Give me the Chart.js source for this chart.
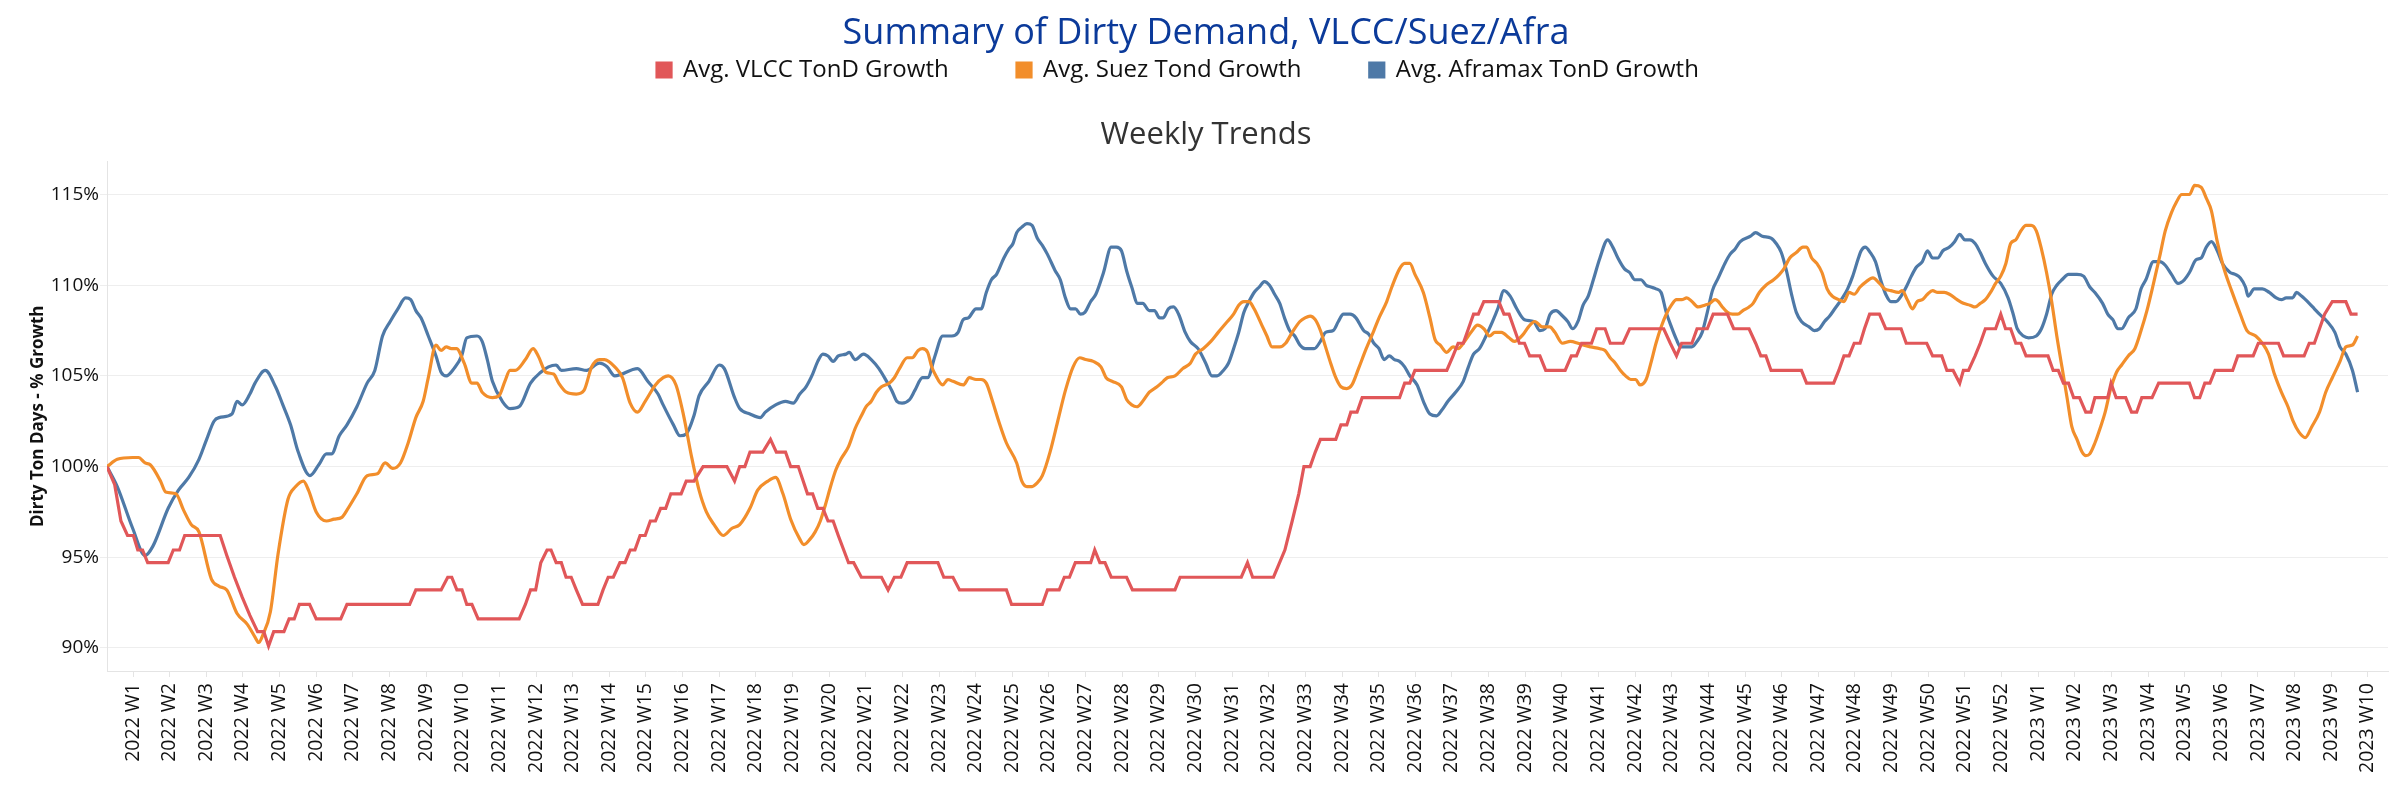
<!DOCTYPE html>
<html>
<head>
<meta charset="utf-8">
<title>Summary of Dirty Demand, VLCC/Suez/Afra</title>
<script src="https://cdn.jsdelivr.net/npm/chart.js@4.4.0/dist/chart.umd.min.js"></script>
<style>
  html, body { margin: 0; padding: 0; background: #fff; }
  #chart { display: block; }
</style>
</head>
<body>
<canvas id="chart" width="2400" height="800"></canvas>
<script>
// x positions are in weeks counted from 2022 W1 (0 = 2022 W1, 52 = 2023 W1)
const weekLabels = [];
for (let i = 1; i <= 52; i++) weekLabels.push("2022 W" + i);
for (let i = 1; i <= 10; i++) weekLabels.push("2023 W" + i);

const yTicks = [90, 95, 100, 105, 110, 115];

const seriesNames = ["Avg. VLCC TonD Growth", "Avg. Suez Tond Growth", "Avg. Aframax TonD Growth"];
const seriesColors = ["#e15759", "#f28e2b", "#4e79a7"];

const vlccWeeks = [-0.71, -0.5, -0.33, -0.15, 0.01, 0.13, 0.26, 0.4, 0.96, 1.1, 1.27, 1.41, 2.38, 2.56, 2.77, 2.98, 3.19, 3.4, 3.57, 3.7,
    3.84, 4.12, 4.26, 4.4, 4.54, 4.82, 5.0, 5.67, 5.84, 7.55, 7.72, 8.41, 8.59, 8.7, 8.84, 8.98, 9.11, 9.25, 9.42, 10.54,
    10.71, 10.85, 10.99, 11.13, 11.3, 11.41, 11.55, 11.69, 11.82, 11.96, 12.1, 12.27, 12.69, 12.83, 12.97, 13.11, 13.29, 13.43, 13.57, 13.7,
    13.84, 13.98, 14.12, 14.26, 14.4, 14.54, 14.68, 14.96, 15.1, 15.31, 15.56, 16.21, 16.42, 16.56, 16.7, 16.84, 17.19, 17.4, 17.56, 17.81,
    17.95, 18.16, 18.41, 18.55, 18.69, 18.83, 18.97, 19.11, 19.25, 19.53, 19.67, 19.88, 20.43, 20.61, 20.78, 20.96, 21.13, 21.97, 22.13, 22.38,
    22.56, 23.84, 23.98, 24.82, 24.96, 25.28, 25.42, 25.56, 25.72, 26.14, 26.25, 26.39, 26.53, 26.7, 27.12, 27.28, 28.44, 28.58, 30.25, 30.42,
    30.56, 31.13, 31.44, 31.64, 31.82, 31.96, 32.13, 32.27, 32.41, 32.83, 32.97, 33.13, 33.24, 33.41, 33.55, 34.57, 34.71, 34.85, 34.99, 35.86,
    36.03, 36.17, 36.31, 36.45, 36.59, 36.72, 36.87, 37.28, 37.42, 37.56, 37.7, 37.84, 37.98, 38.12, 38.4, 38.56, 39.09, 39.26, 39.4, 39.54,
    39.81, 39.95, 40.18, 40.32, 40.67, 40.85, 41.78, 41.96, 42.13, 42.27, 42.55, 42.69, 42.97, 43.13, 43.52, 43.69, 44.11, 44.29, 44.43, 44.57,
    44.71, 45.54, 45.68, 46.42, 46.56, 46.7, 46.84, 46.98, 47.14, 47.26, 47.4, 47.67, 47.84, 48.26, 48.4, 48.96, 49.12, 49.37, 49.51, 49.68,
    49.86, 49.96, 50.1, 50.28, 50.42, 50.56, 50.84, 50.98, 51.11, 51.25, 51.39, 51.53, 51.67, 52.27, 52.41, 52.55, 52.69, 52.83, 52.97, 53.13,
    53.3, 53.44, 53.55, 53.9, 53.99, 54.13, 54.39, 54.55, 54.69, 54.83, 55.11, 55.29, 56.13, 56.27, 56.41, 56.55, 56.69, 56.83, 57.31, 57.45,
    57.87, 58.01, 58.56, 58.7, 59.26, 59.4, 59.54, 59.68, 59.82, 60.03, 60.4, 60.54, 60.72];
const vlccValues = [100.0, 99.0, 97.0, 96.2, 96.2, 95.4, 95.4, 94.7, 94.7, 95.4, 95.4, 96.2, 96.2, 95.1, 93.9, 92.8, 91.8, 90.9, 90.9, 90.1,
    90.9, 90.9, 91.6, 91.6, 92.4, 92.4, 91.6, 91.6, 92.4, 92.4, 93.2, 93.2, 93.9, 93.9, 93.2, 93.2, 92.4, 92.4, 91.6, 91.6,
    92.4, 93.2, 93.2, 94.7, 95.4, 95.4, 94.7, 94.7, 93.9, 93.9, 93.2, 92.4, 92.4, 93.2, 93.9, 93.9, 94.7, 94.7, 95.4, 95.4,
    96.2, 96.2, 97.0, 97.0, 97.7, 97.7, 98.5, 98.5, 99.2, 99.2, 100.0, 100.0, 99.2, 100.0, 100.0, 100.8, 100.8, 101.5, 100.8, 100.8,
    100.0, 100.0, 98.5, 98.5, 97.7, 97.7, 97.0, 97.0, 96.2, 94.7, 94.7, 93.9, 93.9, 93.2, 93.9, 93.9, 94.7, 94.7, 93.9, 93.9,
    93.2, 93.2, 92.4, 92.4, 93.2, 93.2, 93.9, 93.9, 94.7, 94.7, 95.4, 94.7, 94.7, 93.9, 93.9, 93.2, 93.2, 93.9, 93.9, 94.7,
    93.9, 93.9, 95.4, 97.0, 98.5, 100.0, 100.0, 100.8, 101.5, 101.5, 102.3, 102.3, 103.0, 103.0, 103.8, 103.8, 104.6, 104.6, 105.3, 105.3,
    106.1, 106.8, 106.8, 107.6, 108.4, 108.4, 109.1, 109.1, 108.4, 108.4, 107.6, 106.8, 106.8, 106.1, 106.1, 105.3, 105.3, 106.1, 106.1, 106.8,
    106.8, 107.6, 107.6, 106.8, 106.8, 107.6, 107.6, 106.8, 106.1, 106.8, 106.8, 107.6, 107.6, 108.4, 108.4, 107.6, 107.6, 106.8, 106.1, 106.1,
    105.3, 105.3, 104.6, 104.6, 105.3, 106.1, 106.1, 106.8, 106.8, 107.6, 108.4, 108.4, 107.6, 107.6, 106.8, 106.8, 106.1, 106.1, 105.3, 105.3,
    104.6, 105.3, 105.3, 106.1, 106.8, 107.6, 107.6, 108.4, 107.6, 107.6, 106.8, 106.8, 106.1, 106.1, 105.3, 105.3, 104.6, 104.6, 103.8, 103.8,
    103.0, 103.0, 103.8, 103.8, 104.6, 103.8, 103.8, 103.0, 103.0, 103.8, 103.8, 104.6, 104.6, 103.8, 103.8, 104.6, 104.6, 105.3, 105.3, 106.1,
    106.1, 106.8, 106.8, 106.1, 106.1, 106.8, 106.8, 107.6, 108.4, 109.1, 109.1, 108.4, 108.4];

const suezWeeks = [-0.71, -0.43, -0.01, 0.15, 0.33, 0.47, 0.75, 0.89, 1.17, 1.38, 1.59, 1.8, 2.14, 2.35, 2.56, 2.84, 3.12, 3.33, 3.43, 3.54,
    3.75, 3.96, 4.23, 4.44, 4.65, 4.79, 5.0, 5.28, 5.49, 5.7, 5.84, 6.11, 6.39, 6.67, 6.88, 7.09, 7.3, 7.51, 7.72, 7.92,
    8.06, 8.27, 8.41, 8.55, 8.69, 8.83, 9.04, 9.25, 9.39, 9.53, 9.81, 9.99, 10.15, 10.29, 10.43, 10.71, 10.92, 11.06, 11.27, 11.48,
    11.62, 11.83, 12.1, 12.31, 12.52, 12.73, 12.87, 13.15, 13.36, 13.57, 13.77, 13.98, 14.26, 14.47, 14.61, 14.82, 15.03, 15.24, 15.45, 15.65,
    15.86, 16.11, 16.35, 16.56, 16.84, 17.05, 17.33, 17.54, 17.74, 17.95, 18.2, 18.31, 18.48, 18.62, 18.76, 18.9, 19.04, 19.18, 19.32, 19.53,
    19.71, 19.88, 20.01, 20.15, 20.29, 20.43, 20.64, 20.78, 20.92, 21.13, 21.27, 21.43, 21.55, 21.69, 21.8, 21.89, 22.1, 22.24, 22.38, 22.66,
    22.83, 23.01, 23.15, 23.29, 23.43, 23.63, 23.84, 24.12, 24.26, 24.4, 24.54, 24.68, 24.82, 25.03, 25.24, 25.45, 25.66, 25.84, 26.0, 26.21,
    26.42, 26.56, 26.73, 26.98, 27.12, 27.26, 27.4, 27.56, 27.74, 27.95, 28.12, 28.23, 28.44, 28.65, 28.86, 29.0, 29.21, 29.42, 29.62, 29.83,
    30.04, 30.18, 30.32, 30.46, 30.6, 30.81, 30.95, 31.09, 31.3, 31.46, 31.64, 31.85, 31.99, 32.13, 32.27, 32.41, 32.55, 32.69, 32.83, 32.97,
    33.13, 33.27, 33.45, 33.66, 33.87, 34.01, 34.22, 34.36, 34.57, 34.71, 34.85, 34.99, 35.22, 35.4, 35.54, 35.68, 35.86, 36.03, 36.17, 36.31,
    36.52, 36.7, 36.87, 37.03, 37.17, 37.35, 37.56, 37.7, 37.95, 38.09, 38.26, 38.47, 38.67, 38.81, 39.02, 39.23, 39.44, 39.58, 39.79, 40.04,
    40.18, 40.32, 40.46, 40.6, 40.74, 40.88, 41.02, 41.13, 41.3, 41.43, 41.57, 41.71, 41.85, 41.99, 42.13, 42.27, 42.41, 42.55, 42.72, 42.9,
    43.04, 43.18, 43.27, 43.38, 43.52, 43.66, 43.8, 43.94, 44.11, 44.22, 44.39, 44.57, 44.78, 44.94, 45.06, 45.22, 45.4, 45.58, 45.68, 45.82,
    45.96, 46.1, 46.24, 46.38, 46.56, 46.7, 46.84, 46.98, 47.14, 47.31, 47.49, 47.67, 47.81, 47.98, 48.19, 48.29, 48.43, 48.57, 48.7, 48.84,
    48.98, 49.12, 49.26, 49.44, 49.58, 49.79, 49.96, 50.14, 50.28, 50.42, 50.56, 50.7, 50.84, 50.98, 51.12, 51.25, 51.39, 51.53, 51.67, 51.81,
    51.95, 52.09, 52.23, 52.37, 52.51, 52.65, 52.79, 52.92, 53.06, 53.2, 53.3, 53.41, 53.55, 53.69, 53.83, 53.97, 54.14, 54.28, 54.46, 54.64,
    54.81, 54.97, 55.15, 55.32, 55.47, 55.64, 55.78, 55.92, 56.13, 56.27, 56.45, 56.59, 56.73, 56.89, 57.06, 57.28, 57.52, 57.7, 57.94, 58.12,
    58.29, 58.45, 58.64, 58.82, 58.96, 59.12, 59.29, 59.47, 59.68, 59.85, 60.03, 60.24, 60.4, 60.58, 60.72];
const suezValues = [100.0, 100.4, 100.5, 100.5, 100.2, 100.1, 99.2, 98.6, 98.5, 97.6, 96.8, 96.4, 93.8, 93.4, 93.2, 91.9, 91.3, 90.6, 90.3, 90.7,
    92.0, 95.2, 98.2, 98.9, 99.2, 98.7, 97.5, 97.0, 97.1, 97.2, 97.6, 98.5, 99.5, 99.6, 100.2, 99.9, 100.2, 101.3, 102.7, 103.6,
    104.9, 106.7, 106.4, 106.6, 106.5, 106.5, 105.7, 104.6, 104.6, 104.1, 103.8, 103.9, 104.7, 105.3, 105.3, 105.9, 106.5, 106.1, 105.2, 105.1,
    104.6, 104.1, 104.0, 104.2, 105.5, 105.9, 105.9, 105.5, 104.9, 103.5, 103.0, 103.6, 104.5, 104.9, 105.0, 104.5, 102.8, 100.6, 98.7, 97.5,
    96.8, 96.2, 96.6, 96.8, 97.7, 98.7, 99.2, 99.4, 98.5, 97.1, 96.0, 95.7, 96.0, 96.4, 97.0, 97.9, 98.9, 99.8, 100.4, 101.1,
    102.1, 102.8, 103.3, 103.6, 104.1, 104.4, 104.6, 104.9, 105.4, 106.0, 106.0, 106.4, 106.5, 106.3, 105.5, 105.1, 104.5, 104.8, 104.7, 104.5,
    104.9, 104.8, 104.8, 104.6, 103.8, 102.5, 101.3, 100.2, 99.2, 98.9, 98.9, 99.1, 99.5, 100.8, 102.5, 104.2, 105.5, 106.0, 105.9, 105.8,
    105.5, 104.9, 104.7, 104.4, 103.7, 103.4, 103.3, 103.6, 104.1, 104.4, 104.7, 104.9, 105.0, 105.4, 105.7, 106.2, 106.5, 106.9, 107.4, 107.9,
    108.4, 108.9, 109.1, 109.1, 108.7, 107.8, 107.2, 106.6, 106.6, 106.8, 107.4, 108.0, 108.2, 108.3, 108.1, 107.5, 106.6, 105.7, 104.9, 104.4,
    104.3, 104.5, 105.4, 106.5, 107.5, 108.2, 109.1, 109.9, 110.9, 111.2, 111.2, 110.6, 109.6, 108.2, 107.0, 106.7, 106.3, 106.6, 106.5, 106.8,
    107.4, 107.8, 107.6, 107.2, 107.4, 107.4, 107.1, 106.9, 107.3, 107.7, 108.0, 107.7, 107.7, 107.4, 106.8, 106.9, 106.8, 106.7, 106.6, 106.5,
    106.4, 106.0, 105.7, 105.3, 105.0, 104.8, 104.8, 104.5, 104.8, 105.7, 106.8, 107.7, 108.4, 108.9, 109.2, 109.2, 109.3, 109.1, 108.8, 108.9,
    109.0, 109.2, 109.1, 108.8, 108.5, 108.4, 108.4, 108.6, 108.8, 109.0, 109.6, 110.0, 110.3, 110.6, 110.9, 111.5, 111.8, 112.1, 112.1, 111.5,
    111.2, 110.7, 109.8, 109.4, 109.2, 109.1, 109.6, 109.5, 109.9, 110.2, 110.4, 110.1, 109.8, 109.7, 109.6, 109.7, 109.2, 108.7, 109.1, 109.2,
    109.5, 109.7, 109.6, 109.6, 109.5, 109.2, 109.0, 108.9, 108.8, 109.0, 109.2, 109.6, 110.1, 110.5, 111.2, 112.3, 112.5, 113.0, 113.3, 113.3,
    113.0, 112.0, 110.7, 109.1, 107.2, 105.5, 103.8, 102.2, 101.5, 100.8, 100.6, 100.7, 101.3, 102.1, 103.0, 104.2, 105.2, 105.6, 106.1, 106.5,
    107.5, 108.6, 110.1, 111.6, 113.0, 114.0, 114.6, 115.0, 115.0, 115.5, 115.4, 114.8, 114.1, 112.4, 111.0, 109.7, 108.4, 107.5, 107.2, 106.8,
    106.2, 105.1, 104.1, 103.3, 102.5, 101.9, 101.6, 102.2, 103.0, 104.1, 104.9, 105.8, 106.6, 106.7, 107.2];

const aframaxWeeks = [-0.71, -0.43, -0.01, 0.33, 0.54, 0.96, 1.24, 1.52, 1.8, 2.01, 2.21, 2.35, 2.7, 2.84, 2.98, 3.19, 3.33, 3.61, 3.89, 4.09,
    4.3, 4.51, 4.83, 5.07, 5.28, 5.42, 5.63, 5.84, 6.11, 6.39, 6.6, 6.81, 7.02, 7.23, 7.44, 7.58, 7.72, 7.86, 8.06, 8.27,
    8.41, 8.55, 8.76, 8.97, 9.11, 9.39, 9.53, 9.67, 9.81, 10.08, 10.29, 10.54, 10.85, 11.13, 11.34, 11.55, 11.69, 12.1, 12.38, 12.73,
    12.94, 13.15, 13.77, 14.05, 14.33, 14.47, 14.75, 14.93, 15.1, 15.31, 15.45, 15.72, 16.0, 16.14, 16.42, 16.56, 16.84, 17.12, 17.26, 17.54,
    17.81, 18.02, 18.2, 18.37, 18.55, 18.69, 18.83, 18.97, 19.11, 19.25, 19.46, 19.55, 19.71, 19.94, 20.15, 20.36, 20.57, 20.71, 20.85, 20.99,
    21.2, 21.34, 21.55, 21.69, 21.89, 22.1, 22.35, 22.52, 22.66, 22.8, 23.01, 23.15, 23.29, 23.43, 23.57, 23.77, 23.91, 24.02, 24.12, 24.26,
    24.4, 24.54, 24.68, 24.82, 24.96, 25.17, 25.31, 25.45, 25.59, 25.73, 25.86, 25.98, 26.14, 26.28, 26.49, 26.7, 26.84, 26.98, 27.12, 27.26,
    27.42, 27.56, 27.74, 27.88, 28.02, 28.12, 28.26, 28.4, 28.54, 28.72, 28.86, 29.07, 29.28, 29.45, 29.59, 29.76, 29.9, 30.04, 30.18, 30.32,
    30.46, 30.6, 30.74, 30.88, 31.02, 31.16, 31.3, 31.43, 31.57, 31.71, 31.85, 31.99, 32.24, 32.41, 32.55, 32.76, 32.9, 33.04, 33.22, 33.38,
    33.59, 33.73, 33.87, 34.01, 34.15, 34.29, 34.43, 34.57, 34.71, 34.85, 35.05, 35.22, 35.4, 35.58, 35.72, 35.89, 36.1, 36.31, 36.45, 36.59,
    36.75, 36.93, 37.11, 37.25, 37.42, 37.59, 37.77, 37.98, 38.23, 38.4, 38.54, 38.68, 38.84, 39.02, 39.16, 39.3, 39.44, 39.58, 39.72, 39.86,
    40.04, 40.25, 40.39, 40.53, 40.71, 40.85, 40.99, 41.16, 41.3, 41.43, 41.57, 41.71, 41.85, 41.99, 42.13, 42.24, 42.55, 42.69, 42.83, 42.97,
    43.11, 43.27, 43.45, 43.59, 43.73, 43.87, 44.15, 44.29, 44.47, 44.71, 44.85, 44.99, 45.13, 45.27, 45.4, 45.54, 45.75, 45.89, 46.03, 46.17,
    46.31, 46.45, 46.66, 46.8, 46.94, 47.08, 47.17, 47.28, 47.42, 47.56, 47.7, 47.84, 47.98, 48.12, 48.26, 48.4, 48.54, 48.68, 48.84, 48.98,
    49.12, 49.26, 49.4, 49.58, 49.72, 49.86, 50.0, 50.14, 50.28, 50.42, 50.56, 50.77, 50.98, 51.18, 51.32, 51.43, 51.6, 51.74, 51.95, 52.09,
    52.23, 52.37, 52.51, 52.65, 52.83, 53.06, 53.24, 53.41, 53.55, 53.76, 53.9, 54.04, 54.18, 54.28, 54.46, 54.67, 54.81, 54.94, 55.15, 55.32,
    55.47, 55.64, 55.82, 55.99, 56.13, 56.31, 56.45, 56.59, 56.73, 56.89, 57.03, 57.24, 57.38, 57.52, 57.66, 57.73, 57.9, 58.12, 58.31, 58.5,
    58.64, 58.77, 58.95, 59.05, 59.19, 59.4, 59.54, 59.68, 59.89, 60.1, 60.24, 60.4, 60.58, 60.72];
const aframaxValues = [100.0, 98.9, 96.6, 95.1, 95.6, 97.7, 98.7, 99.4, 100.4, 101.5, 102.5, 102.7, 102.9, 103.6, 103.4, 104.0, 104.6, 105.3, 104.4, 103.4,
    102.3, 100.8, 99.5, 100.1, 100.7, 100.7, 101.7, 102.3, 103.3, 104.6, 105.3, 107.2, 108.0, 108.7, 109.3, 109.2, 108.6, 108.2, 107.2, 106.1,
    105.2, 105.0, 105.4, 106.1, 107.1, 107.2, 106.9, 105.9, 104.7, 103.6, 103.2, 103.3, 104.6, 105.2, 105.5, 105.6, 105.3, 105.4, 105.3, 105.7,
    105.5, 105.0, 105.4, 104.7, 104.0, 103.4, 102.3, 101.7, 101.8, 102.8, 103.9, 104.7, 105.6, 105.4, 103.8, 103.2, 102.9, 102.7, 103.0, 103.4,
    103.6, 103.5, 104.0, 104.4, 105.1, 105.8, 106.2, 106.1, 105.8, 106.1, 106.2, 106.3, 105.9, 106.2, 105.9, 105.4, 104.7, 104.2, 103.6, 103.5,
    103.7, 104.2, 104.9, 104.9, 106.1, 107.2, 107.2, 107.4, 108.1, 108.2, 108.7, 108.7, 109.6, 110.3, 110.6, 111.5, 112.0, 112.3, 112.9, 113.2,
    113.4, 113.3, 112.6, 112.2, 111.7, 110.8, 110.3, 109.3, 108.7, 108.7, 108.4, 108.5, 109.1, 109.5, 110.7, 112.1, 112.1, 111.9, 110.8, 109.9,
    109.0, 109.0, 108.6, 108.6, 108.2, 108.2, 108.7, 108.8, 108.4, 107.4, 106.9, 106.5, 105.7, 105.0, 105.0, 105.3, 105.7, 106.5, 107.4, 108.5,
    109.1, 109.6, 109.9, 110.2, 110.0, 109.5, 109.0, 108.2, 107.5, 107.2, 106.7, 106.5, 106.5, 106.9, 107.4, 107.5, 108.0, 108.4, 108.4, 108.2,
    107.5, 107.3, 106.8, 106.5, 105.9, 106.1, 105.9, 105.8, 105.5, 105.0, 104.5, 103.6, 102.9, 102.8, 103.1, 103.6, 104.1, 104.7, 105.5, 106.2,
    106.5, 107.2, 108.0, 108.7, 109.7, 109.4, 108.7, 108.1, 108.0, 107.5, 107.6, 108.4, 108.6, 108.3, 108.0, 107.6, 108.0, 108.9, 109.4, 110.3,
    111.5, 112.5, 112.1, 111.5, 110.9, 110.7, 110.3, 110.3, 110.0, 109.9, 109.8, 109.6, 108.5, 107.7, 107.0, 106.6, 106.6, 106.9, 107.4, 108.5,
    109.7, 110.4, 111.2, 111.7, 112.0, 112.4, 112.7, 112.9, 112.7, 112.6, 112.3, 111.8, 110.8, 109.5, 108.5, 108.0, 107.7, 107.5, 107.6, 108.0,
    108.3, 108.7, 109.3, 109.8, 110.5, 111.4, 111.9, 112.1, 111.8, 111.3, 110.3, 109.5, 109.1, 109.1, 109.4, 109.9, 110.5, 111.0, 111.3, 111.9,
    111.5, 111.5, 111.9, 112.1, 112.4, 112.8, 112.5, 112.5, 112.3, 111.8, 111.2, 110.5, 110.1, 109.3, 108.4, 107.6, 107.2, 107.1, 107.2, 107.6,
    108.4, 109.5, 110.0, 110.3, 110.6, 110.6, 110.5, 109.9, 109.6, 109.0, 108.4, 108.1, 107.6, 107.6, 108.2, 108.7, 109.8, 110.3, 111.3, 111.3,
    111.1, 110.6, 110.1, 110.3, 110.7, 111.4, 111.5, 112.1, 112.4, 111.9, 111.2, 110.7, 110.6, 110.4, 109.9, 109.4, 109.8, 109.8, 109.6, 109.3,
    109.2, 109.3, 109.3, 109.6, 109.4, 109.0, 108.7, 108.4, 108.0, 107.4, 106.6, 106.2, 105.3, 104.1];

function toPoints(weeks, values) {
    return weeks.map((w, i) => ({ x: w, y: values[i] }));
}

function lineSet(i, weeks, values, smooth) {
    return {
        label: seriesNames[i],
        data: toPoints(weeks, values),
        borderColor: seriesColors[i],
        backgroundColor: seriesColors[i],
        borderWidth: 3.2,
        pointRadius: 0,
        pointHoverRadius: 0,
        cubicInterpolationMode: smooth ? "monotone" : "default",
        tension: 0,
    };
}

Chart.defaults.font.family = "'Open Sans', 'Noto Sans', sans-serif";
Chart.defaults.color = "#111";

const ctx = document.getElementById("chart").getContext("2d");
new Chart(ctx, {
    type: "line",
    data: {
        datasets: [
            lineSet(0, vlccWeeks, vlccValues, false),
            lineSet(1, suezWeeks, suezValues, true),
            lineSet(2, aframaxWeeks, aframaxValues, true),
        ],
    },
    options: {
        responsive: false,
        animation: false,
        devicePixelRatio: 1,
        events: [],
        layout: { padding: { left: 24, right: 12, top: 0, bottom: 27 } },
        plugins: {
            title: {
                display: true,
                text: "Summary of Dirty Demand, VLCC/Suez/Afra",
                color: "#0b3a9a",
                font: { size: 36, weight: "normal", lineHeight: 1 },
                padding: { top: 16, bottom: 0 },
            },
            legend: {
                display: true,
                position: "top",
                weight: 1800,
                labels: {
                    boxWidth: 14,
                    boxHeight: 14,
                    padding: 6,
                    color: "#111",
                    font: { size: 24 },
                    // wider gaps between items without a taller legend box
                    generateLabels: (chart) => {
                        const items = Chart.defaults.plugins.legend.labels.generateLabels(chart);
                        items.forEach((it, i) => {
                            it.text += i < items.length - 1 ? "          " : "         ";
                        });
                        return items;
                    },
                },
            },
            subtitle: {
                display: true,
                text: "Weekly Trends",
                color: "#333",
                font: { size: 31, weight: "normal", lineHeight: 1 },
                padding: { top: 27.5, bottom: 11 },
            },
            tooltip: { enabled: false },
        },
        scales: {
            x: {
                type: "linear",
                min: -0.71,
                max: 61.55,
                afterBuildTicks: (scale) => {
                    scale.ticks = weekLabels.map((_, i) => ({ value: i }));
                },
                afterFit: (scale) => {
                    scale.height = 102;
                },
                ticks: {
                    autoSkip: false,
                    minRotation: 90,
                    maxRotation: 90,
                    padding: 6,
                    color: "#111",
                    font: { size: 19.5 },
                    callback: (v) => weekLabels[v] || "",
                },
                grid: {
                    drawOnChartArea: false,
                    drawTicks: true,
                    tickLength: 6,
                    color: "#e4e4e4",
                },
                border: { display: true, color: "#e4e4e4", width: 1 },
            },
            y: {
                type: "linear",
                min: 88.73,
                max: 116.82,
                afterBuildTicks: (scale) => {
                    scale.ticks = yTicks.map((v) => ({ value: v }));
                },
                afterFit: (scale) => {
                    scale.width = 83;
                },
                ticks: {
                    padding: 1,
                    color: "#111",
                    font: { size: 19 },
                    callback: (v) => v + "%",
                },
                grid: {
                    color: "#eeeeee",
                    lineWidth: 1,
                    drawTicks: true,
                    tickLength: 7,
                },
                border: { display: true, color: "#e4e4e4", width: 1 },
                title: {
                    display: true,
                    text: "Dirty Ton Days - % Growth",
                    color: "#111",
                    font: { size: 17, weight: "bold" },
                    padding: { top: 4, bottom: 4 },
                },
            },
        },
    },
});
</script>
</body>
</html>
